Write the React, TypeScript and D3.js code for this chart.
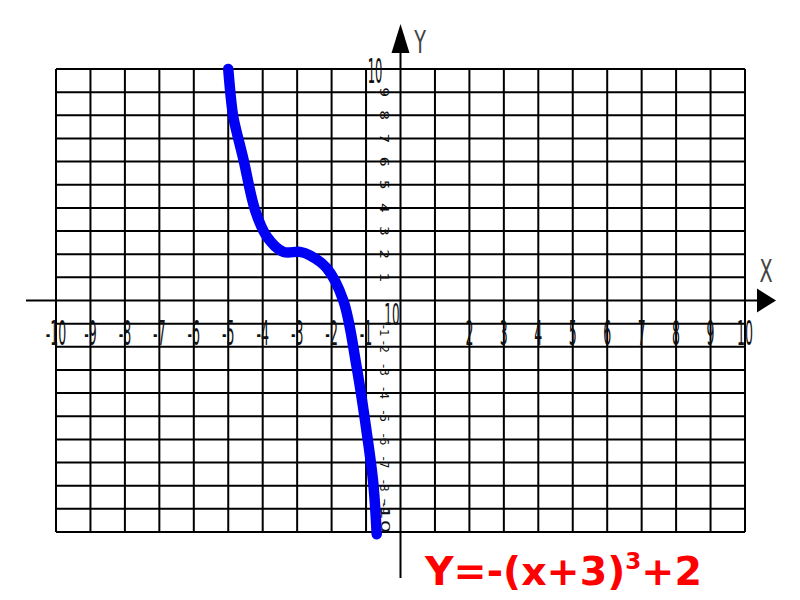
import React from 'react';
import * as d3 from 'd3';

// grid range
const xTicks = [-10, -9, -8, -7, -6, -5, -4, -3, -2, -1, 1, 2, 3, 4, 5, 6, 7, 8, 9, 10];
const yTicks = [-10, -9, -8, -7, -6, -5, -4, -3, -2, -1, 1, 2, 3, 4, 5, 6, 7, 8, 9, 10];
const xLabels = ['-10', '-9', '-8', '-7', '-6', '-5', '-4', '-3', '-2', '-1', '1', '2', '3', '4', '5', '6', '7', '8', '9', '10'];
const yLabelsPos = ['1', '2', '3', '4', '5', '6', '7', '8', '9'];
const yLabelsNeg = ['-1', '-2', '-3', '-4', '-5', '-6', '-7', '-8', '-9'];

// curve points
const curveX = [-5, -4.92, -4.85, -4.56, -4.22, -3.88, -3.4, -2.92, -2.63, -2.14, -1.66, -1.27, -0.98, -0.79, -0.69];
const curveY = [10, 8.7, 7.9, 6.1, 3.9, 2.76, 2.1, 2.1, 1.95, 1.4, 0, -2.9, -5.7, -7.9, -10.1];

const W = 800;
const H = 600;

export default function App() {
  const x = d3.scaleLinear().domain([-10, 10]).range([56, 745]);
  const y = d3.scaleLinear().domain([-10, 10]).range([532, 69]);

  const pts: [number, number][] = curveX.map((v, i) => [v, curveY[i]]);
  const line = d3.line<[number, number]>()
    .x(d => x(d[0]))
    .y(d => y(d[1]))
    .curve(d3.curveCatmullRom.alpha(0.5));

  const x0 = x(0);
  const y0 = y(0);
  const labelFont = "'DejaVu Sans', sans-serif";

  return (
    <svg width={W} height={H} style={{ position: 'absolute', left: 0, top: 0, background: '#fff' }}>
      {/* grid */}
      <g stroke="#000" strokeWidth={2}>
        {xTicks.map(t => (
          <line key={'gx' + t} x1={x(t)} x2={x(t)} y1={y(10)} y2={y(-10)} />
        ))}
        {yTicks.map(t => (
          <line key={'gy' + t} x1={x(-10)} x2={x(10)} y1={y(t)} y2={y(t)} />
        ))}
      </g>

      {/* axes */}
      <line x1={26} x2={757} y1={y0} y2={y0} stroke="#000" strokeWidth={2} />
      <polygon points={`757,${y0 - 12} 776,${y0} 757,${y0 + 12}`} fill="#000" />
      <line x1={x0} x2={x0} y1={52} y2={578} stroke="#000" strokeWidth={2} />
      <polygon points={`${x0 - 9},53 ${x0},24 ${x0 + 9},53`} fill="#000" />
      <text transform="translate(766,282) scale(0.6,1)" textAnchor="middle" fontFamily={labelFont}
        fontSize={32} fill="#444">X</text>
      <text transform="translate(420,53) scale(0.6,1)" textAnchor="middle" fontFamily={labelFont}
        fontSize={32} fill="#444">Y</text>

      {/* x tick labels, tall and narrow */}
      <g fontFamily={labelFont} fill="#111">
        {xTicks.map((t, i) => (
          <text key={'lx' + t} transform={`translate(${x(t)},345) scale(${t === 1 ? 0.5 : 0.38},1)`}
            textAnchor="middle" fontSize={t === 1 ? 8 : 33}>{xLabels[i]}</text>
        ))}
      </g>

      {/* y tick labels, rotated along the axis */}
      <g fontFamily={labelFont} fill="#111">
        <text transform="translate(375,83) scale(0.34,1)" textAnchor="middle" fontSize={34}>10</text>
        {yLabelsPos.map((s, i) => (
          <text key={'ly' + s} transform={`translate(384,${y(i + 1)}) rotate(90) scale(1.3,1)`} textAnchor="middle"
            dy={4} fontSize={12}>{s}</text>
        ))}
        <text transform="translate(392,325) scale(0.4,1)" textAnchor="middle" fontSize={30}>10</text>
        {yLabelsNeg.map((s, i) => (
          <text key={'lyn' + s} transform={`translate(384,${y(-(i + 1)) + (i === 0 ? 7 : 0)}) rotate(90)`}
            textAnchor="middle" dy={4} fontSize={12}>{s}</text>
        ))}
        <text transform={`translate(385,${y(-9.3)}) rotate(90) scale(1.8,1)`} textAnchor="middle" dy={4}
          fontSize={12}>-10</text>
      </g>

      {/* curve */}
      <path d={line(pts) || ''} fill="none" stroke="#0000f5" strokeWidth={10.5}
        strokeLinecap="round" strokeLinejoin="round" />

      {/* formula */}
      <text x={425} y={585} fontFamily="'DejaVu Sans', sans-serif" fontWeight="bold" fontSize={39.5} fill="#ff0000">
        Y=-(x+3)<tspan fontSize={23} dy={-16}>3</tspan><tspan dy={16}>+2</tspan>
      </text>
    </svg>
  );
}
